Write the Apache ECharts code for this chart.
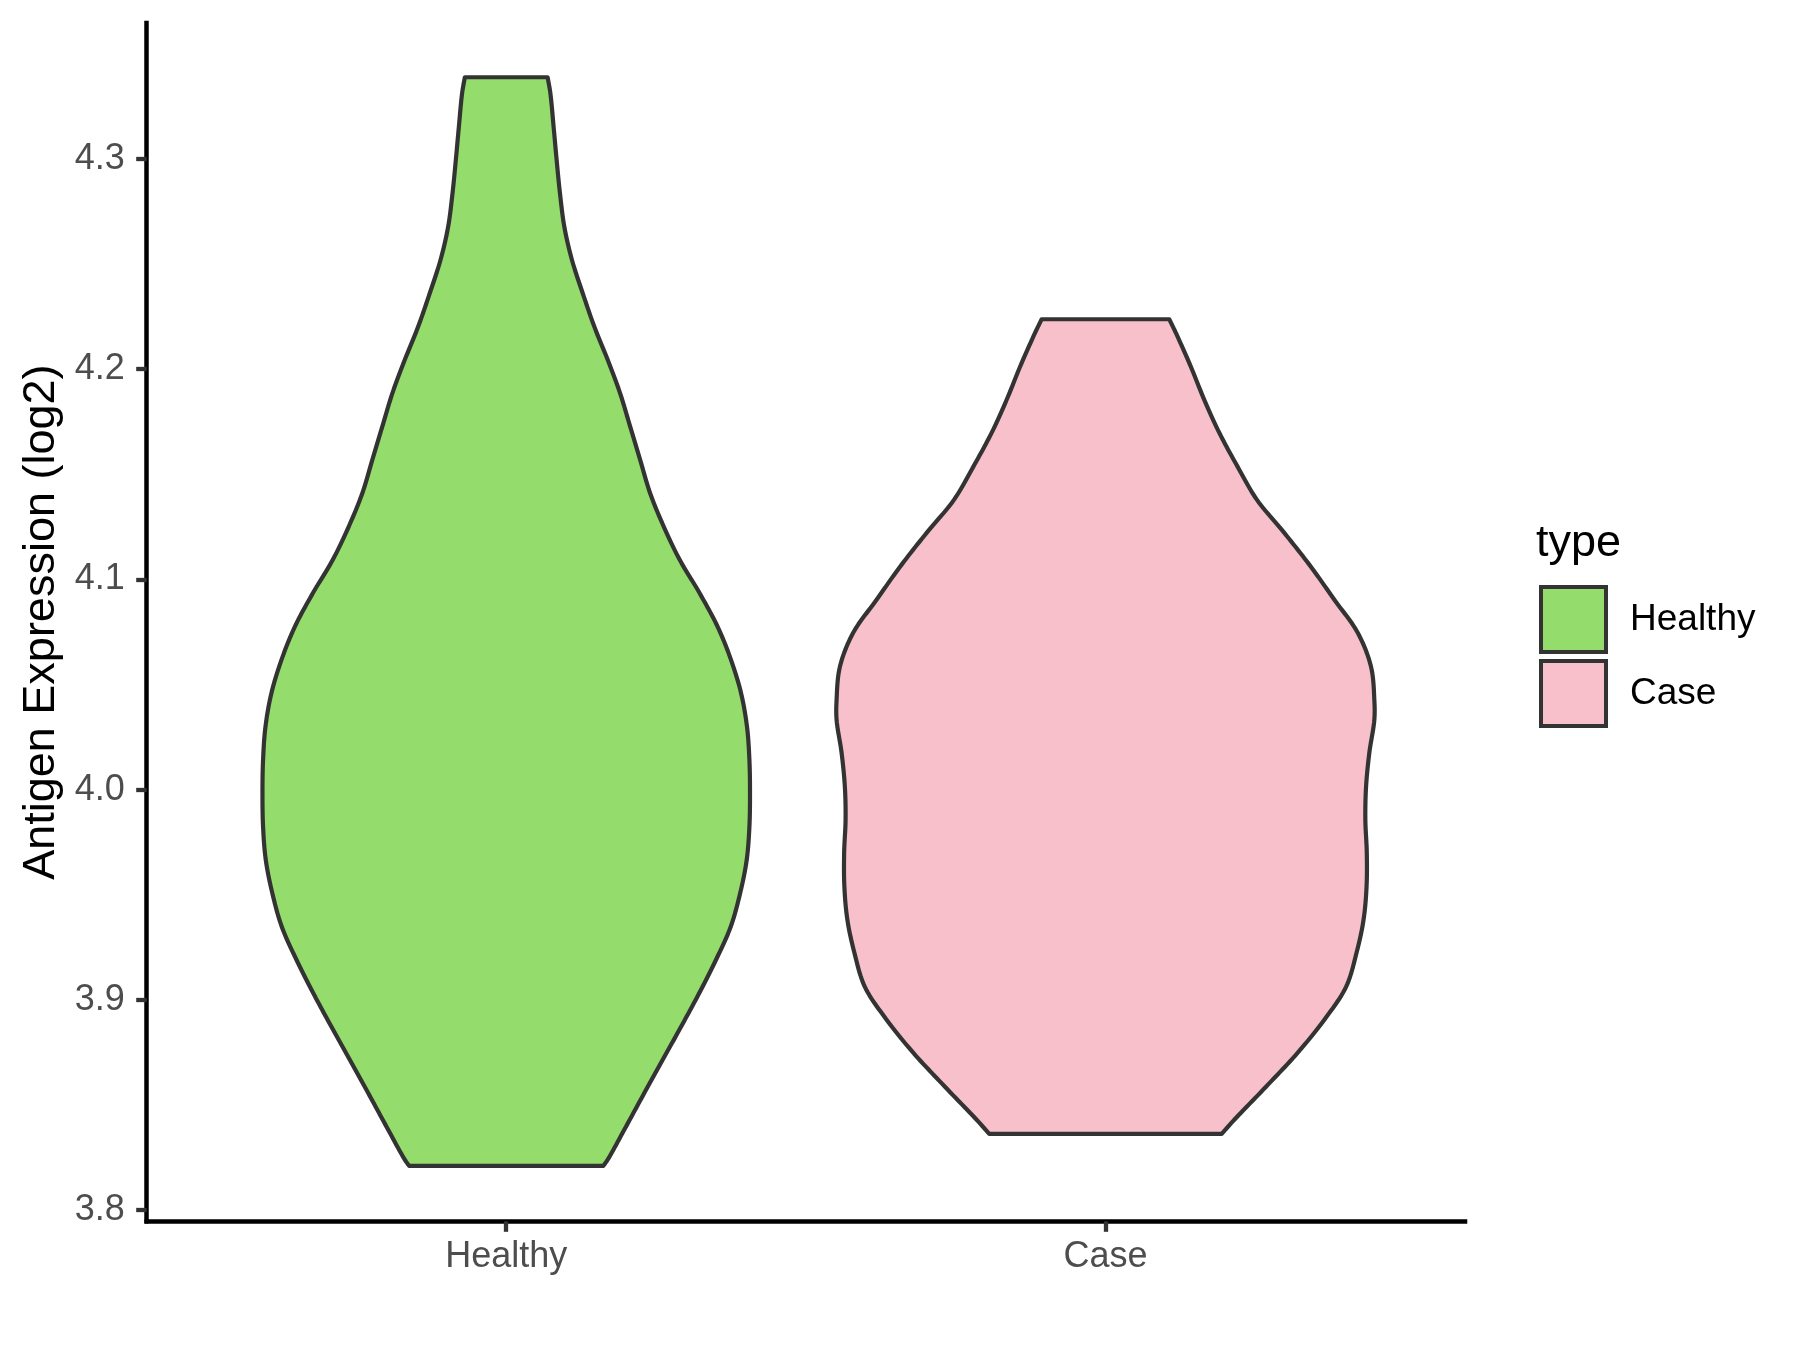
<!DOCTYPE html>
<html>
<head>
<meta charset="utf-8">
<script src="https://cdn.jsdelivr.net/npm/echarts@6/dist/echarts.min.js"></script>
<style>
  html, body { margin: 0; padding: 0; background: #ffffff; }
  #chart { width: 1800px; height: 1350px; }
</style>
</head>
<body>
<div id="chart"></div>
<script>
// ---- Data ----
const categories = ['Healthy', 'Case'];
const yTicks = [3.8, 3.9, 4.0, 4.1, 4.2, 4.3];

// Violin outlines: expression value (y) and half-width in category units
const healthyY = [4.3388, 4.3313, 4.3151, 4.2995, 4.2838, 4.2676, 4.2519, 4.2362, 4.2201, 4.2044,
  4.1887, 4.1725, 4.1568, 4.1411, 4.1250, 4.1093, 4.0936, 4.0774, 4.0617, 4.0460,
  4.0299, 4.0142, 3.9985, 3.9823, 3.9666, 3.9509, 3.9348, 3.9191, 3.9034, 3.8872,
  3.8715, 3.8558, 3.8397, 3.8240, 3.8211];
const healthyHalfWidth = [0.0691, 0.0736, 0.0791, 0.0841, 0.0896, 0.0970, 0.1097, 0.1275, 0.1471, 0.1693,
  0.1898, 0.2070, 0.2235, 0.2400, 0.2630, 0.2895, 0.3224, 0.3529, 0.3751, 0.3918,
  0.4018, 0.4058, 0.4068, 0.4058, 0.4013, 0.3905, 0.3746, 0.3501, 0.3224, 0.2917,
  0.2611, 0.2306, 0.1998, 0.1693, 0.1621];

const caseY = [4.2237, 4.2171, 4.2010, 4.1854, 4.1697, 4.1535, 4.1378, 4.1221, 4.1059, 4.0903,
  4.0746, 4.0584, 4.0427, 4.0332, 4.0176, 4.0014, 3.9857, 3.9700, 3.9538, 3.9381,
  3.9224, 3.9062, 3.8906, 3.8749, 3.8587, 3.8430, 3.8363];
const caseHalfWidth = [0.1065, 0.1177, 0.1427, 0.1649, 0.1900, 0.2207, 0.2529, 0.2985, 0.3431, 0.3820,
  0.4210, 0.4432, 0.4487, 0.4487, 0.4404, 0.4349, 0.4337, 0.4361, 0.4357, 0.4307,
  0.4190, 0.4015, 0.3653, 0.3209, 0.2679, 0.2150, 0.1940];

const colors = { Healthy: '#94DC6B', Case: '#F8C0CB' };
const FONT = '"Liberation Sans", Arial, Helvetica, sans-serif';

// Centripetal Catmull-Rom sampling of an outline (render-time smoothing only)
function smoothLine(pts, steps) {
  const n = pts.length;
  const ext = [
    [2 * pts[0][0] - pts[1][0], 2 * pts[0][1] - pts[1][1]],
    ...pts,
    [2 * pts[n - 1][0] - pts[n - 2][0], 2 * pts[n - 1][1] - pts[n - 2][1]]
  ];
  const dist = (a, b) => Math.max(1e-6, Math.pow(Math.hypot(b[0] - a[0], b[1] - a[1]), 0.5));
  const lerp = (a, b, ta, tb, t) => {
    const w = (t - ta) / (tb - ta);
    return [a[0] + (b[0] - a[0]) * w, a[1] + (b[1] - a[1]) * w];
  };
  const out = [];
  for (let i = 1; i < ext.length - 2; i++) {
    const P0 = ext[i - 1], P1 = ext[i], P2 = ext[i + 1], P3 = ext[i + 2];
    const t0 = 0, t1 = t0 + dist(P0, P1), t2 = t1 + dist(P1, P2), t3 = t2 + dist(P2, P3);
    for (let s = 0; s < steps; s++) {
      const t = t1 + (t2 - t1) * s / steps;
      const A1 = lerp(P0, P1, t0, t1, t);
      const A2 = lerp(P1, P2, t1, t2, t);
      const A3 = lerp(P2, P3, t2, t3, t);
      const B1 = lerp(A1, A2, t0, t2, t);
      const B2 = lerp(A2, A3, t1, t3, t);
      out.push(lerp(B1, B2, t1, t2, t));
    }
  }
  out.push(pts[n - 1]);
  return out;
}

function violinRenderer(yArr, hwArr, center, fill) {
  return function (params, api) {
    const cx = api.coord([center, yArr[0]])[0];
    const left = yArr.map((y, i) => api.coord([center - hwArr[i], y]));
    const leftSmooth = smoothLine(left, 12);
    const rightSmooth = leftSmooth.map(p => [2 * cx - p[0], p[1]]).reverse();
    const points = leftSmooth.concat(rightSmooth);
    return {
      type: 'polygon',
      shape: { points: points },
      style: { fill: fill, stroke: '#333333', lineWidth: 4.2, lineJoin: 'round' }
    };
  };
}

const chart = echarts.init(document.getElementById('chart'), null, { renderer: 'canvas' });

const option = {
  animation: false,
  backgroundColor: '#ffffff',
  title: {
    text: 'type',
    left: 1536,
    top: 521,
    padding: 0,
    textStyle: { fontFamily: FONT, fontSize: 45, fontWeight: 'normal', color: '#000000' }
  },
  legend: {
    orient: 'vertical',
    left: 1539,
    top: 585,
    padding: 0,
    itemWidth: 65,
    itemHeight: 65,
    itemGap: 5,
    icon: 'rect',
    selectedMode: false,
    data: [
      { name: 'Healthy', itemStyle: { color: colors.Healthy, borderColor: '#333333', borderWidth: 4 } },
      { name: 'Case', itemStyle: { color: colors.Case, borderColor: '#333333', borderWidth: 4 } }
    ],
    formatter: name => '{t|' + name + '}',
    textStyle: {
      fontFamily: FONT, fontSize: 37, color: '#000000',
      rich: { t: { fontFamily: FONT, fontSize: 37, color: '#000000', padding: [0, 0, 0, 19] } }
    }
  },
  grid: { left: 146.7, right: 335, top: 23, bottom: 128.7, containLabel: false },
  xAxis: {
    type: 'value',
    min: 0.4,
    max: 2.6,
    splitLine: { show: false },
    axisLine: { show: true, lineStyle: { color: '#000000', width: 4.5, cap: 'square' } },
    axisTick: { show: true, customValues: [1, 2], length: 10.5, lineStyle: { color: '#333333', width: 4.3 } },
    axisLabel: {
      show: true, customValues: [1, 2], margin: 18,
      formatter: v => categories[Math.round(v) - 1] || '',
      fontFamily: FONT, fontSize: 36, color: '#4D4D4D'
    }
  },
  yAxis: {
    type: 'value',
    min: 3.7947,
    max: 4.3646,
    name: 'Antigen Expression (log2)',
    nameLocation: 'middle',
    nameRotate: 90,
    nameGap: 82,
    nameTextStyle: { fontFamily: FONT, fontSize: 45, color: '#000000' },
    splitLine: { show: false },
    axisLine: { show: true, lineStyle: { color: '#000000', width: 4.5, cap: 'square' } },
    axisTick: { show: true, customValues: yTicks, length: 10.5, lineStyle: { color: '#333333', width: 4.3 } },
    axisLabel: {
      show: true, customValues: yTicks, margin: 22,
      formatter: v => Number(v).toFixed(1),
      fontFamily: FONT, fontSize: 36, color: '#4D4D4D'
    }
  },
  series: [
    {
      name: 'Healthy',
      type: 'custom',
      silent: true,
      itemStyle: { color: colors.Healthy },
      data: [[1, 4.0]],
      renderItem: violinRenderer(healthyY, healthyHalfWidth, 1, colors.Healthy)
    },
    {
      name: 'Case',
      type: 'custom',
      silent: true,
      itemStyle: { color: colors.Case },
      data: [[2, 4.0]],
      renderItem: violinRenderer(caseY, caseHalfWidth, 2, colors.Case)
    }
  ]
};

chart.setOption(option);
</script>
</body>
</html>
